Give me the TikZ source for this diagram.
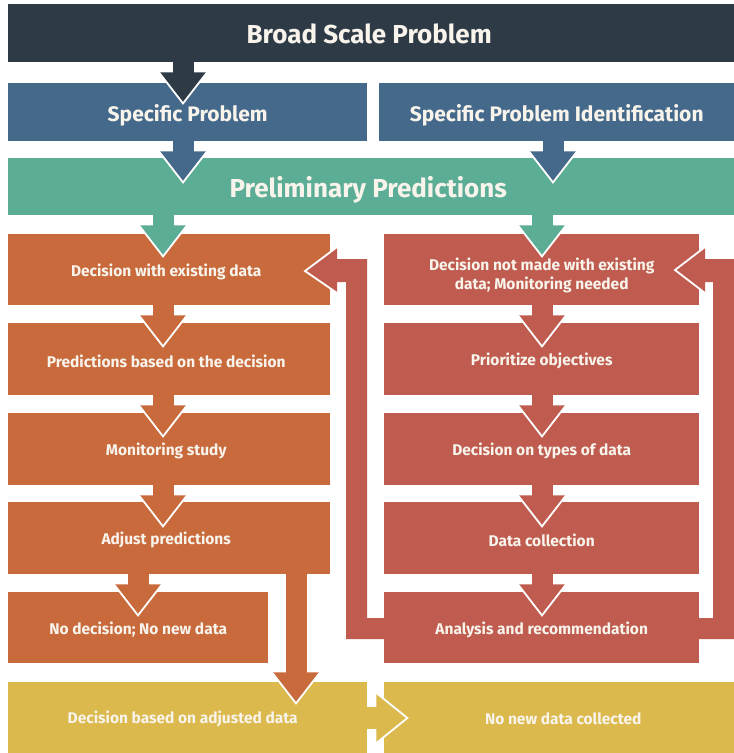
\documentclass[tikz,border=0pt]{standalone}
\usepackage{fontspec}
\setmainfont{Fira Sans}
\usetikzlibrary{calc}
\definecolor{cdark}{HTML}{2E3A45}
\definecolor{cblue}{HTML}{44698A}
\definecolor{cteal}{HTML}{5CAD95}
\definecolor{corange}{HTML}{C86A3C}
\definecolor{cred}{HTML}{BF5C4F}
\definecolor{cyellow}{HTML}{DBB94C}
\definecolor{ctext}{HTML}{F8F4EC}
\newcommand\DArr[3][10]{%
  \begin{scope}[shift={#2}]
    \fill[#3] (-10.5,-1) rectangle (10.5,#1+0.5);
    \fill[#3] (-24,#1) -- (0,#1+31) -- (24,#1) -- cycle;
    \draw[arrline] (-24,#1) -- (0,#1+31) -- (24,#1);
  \end{scope}}
\begin{document}
\begin{tikzpicture}[x=1pt,y=-1pt,
  box/.style={rectangle, inner sep=0pt, anchor=north west},
  txt/.style={inner sep=0pt, text=ctext, align=center,
    font=\bfseries\fontsize{15.5}{19}\selectfont},
  bigtxt/.style={txt, font=\bfseries\fontsize{26}{30}\selectfont},
  midtxt/.style={txt, font=\bfseries\fontsize{21}{24}\selectfont},
  arrline/.style={draw=white, line width=1.8pt, line join=miter}]
\useasboundingbox (0,0) rectangle (734,753);
\fill[white] (0,0) rectangle (734,753);

% boxes
\node[box, fill=cdark, minimum width=726, minimum height=58] (bsp) at (8,4) {};
\node[box, fill=cblue, minimum width=359, minimum height=58] (sp) at (8,83) {};
\node[box, fill=cblue, minimum width=355, minimum height=58] (spi) at (379,83) {};
\node[box, fill=cteal, minimum width=726, minimum height=57] (pp) at (8,158) {};

\node[box, fill=corange, minimum width=322, minimum height=71] (L1) at (8,234) {};
\node[box, fill=corange, minimum width=322, minimum height=72] (L2) at (8,323) {};
\node[box, fill=corange, minimum width=322, minimum height=72] (L3) at (8,413) {};
\node[box, fill=corange, minimum width=322, minimum height=72] (L4) at (8,502) {};
\node[box, fill=corange, minimum width=260, minimum height=71] (L5) at (8,592) {};

\node[box, fill=cred, minimum width=315, minimum height=71] (R1) at (384,234) {};
\node[box, fill=cred, minimum width=315, minimum height=72] (R2) at (384,323) {};
\node[box, fill=cred, minimum width=315, minimum height=72] (R3) at (384,413) {};
\node[box, fill=cred, minimum width=315, minimum height=72] (R4) at (384,502) {};
\node[box, fill=cred, minimum width=315, minimum height=71] (R5) at (384,592) {};

\node[box, fill=cyellow, minimum width=359, minimum height=71] (Y1) at (8,682) {};
\node[box, fill=cyellow, minimum width=350, minimum height=71] (Y2) at (384,682) {};

% loops back to the first decision boxes
\fill[cred] ($(R5.west |- 0,639)+(6,0)$) -- (346,639) -- (346,282) -- (337,282) -- (337,293)
  -- (305,271) -- (337,247) -- (337,259) -- (367,259) -- (367,618) -- ($(R5.west |- 0,618)+(6,0)$) -- cycle;
\draw[arrline] (337,247) -- (305,271) -- (337,293);
\fill[cred] ($(R5.east |- 0,639)+(-6,0)$) -- (734,639) -- (734,259) -- (705,259) -- (705,247)
  -- (675,270) -- (705,293) -- (705,282) -- (713,282) -- (713,618) -- ($(R5.east |- 0,618)+(-6,0)$) -- cycle;
\draw[arrline] (705,247) -- (675,270) -- (705,293);

% downward arrows
\DArr{(bsp.south -| 183,0)}{cdark}
\DArr{(sp.south -| 183,0)}{cblue}
\DArr{(spi.south -| 553,0)}{cblue}
\DArr{(pp.south -| 163,0)}{cteal}
\DArr{(pp.south -| 542,0)}{cteal}
\DArr{(L1.south -| 163,0)}{corange}
\DArr{(L2.south -| 163,0)}{corange}
\DArr{(L3.south -| 163,0)}{corange}
\DArr{(L4.south -| 138,0)}{corange}
\DArr[98]{(L4.south -| 296,0)}{corange}
\DArr{(R1.south -| 542,0)}{cred}
\DArr{(R2.south -| 542,0)}{cred}
\DArr{(R3.south -| 542,0)}{cred}
\DArr{(R4.south -| 542,0)}{cred}

% yellow arrow to the right
\begin{scope}[shift={(Y1.east |- 0,718)}]
  \fill[cyellow] (-1,-11) rectangle (9.5,11);
  \fill[cyellow] (9,-25) -- (40,0) -- (9,25) -- cycle;
  \draw[arrline] (9,-25) -- (40,0) -- (9,25);
\end{scope}

% texts
\node[bigtxt] (tbsp) at ($(bsp.center)+(-2,1)$) {Broad Scale Problem};
\node[midtxt] (tsp) at ($(sp.center)+(0,3)$) {Specific Problem};
\node[midtxt] (tspi) at ($(spi.center)+(0,3)$) {Specific Problem Identification};
\node[bigtxt] (tpp) at ($(pp.center)+(-3,3)$) {Preliminary Predictions};
\node[txt] (tL1) at ($(L1.center)+(-3,2)$) {Decision with existing data};
\node[txt] (tL2) at ($(L2.center)+(-3,2)$) {Predictions based on the decision};
\node[txt] (tL3) at ($(L3.center)+(-3,2)$) {Monitoring study};
\node[txt] (tL4) at ($(L4.center)+(-3,2)$) {Adjust predictions};
\node[txt] (tL5) at ($(L5.center)+(0,2)$) {No decision; No new data};
\node[txt] (tR1) at ($(R1.center)+(0,6)$) {Decision not made with existing\\data; Monitoring needed};
\node[txt] (tR2) at ($(R2.center)+(0,2)$) {Prioritize objectives};
\node[txt] (tR3) at ($(R3.center)+(0,2)$) {Decision on types of data};
\node[txt] (tR4) at ($(R4.center)+(0,2)$) {Data collection};
\node[txt] (tR5) at ($(R5.center)+(0,2)$) {Analysis and recommendation};
\node[txt] (tY1) at ($(Y1.center)+(-5,1)$) {Decision based on adjusted data};
\node[txt] (tY2) at ($(Y2.center)+(4,1)$) {No new data collected};
\end{tikzpicture}
\end{document}
